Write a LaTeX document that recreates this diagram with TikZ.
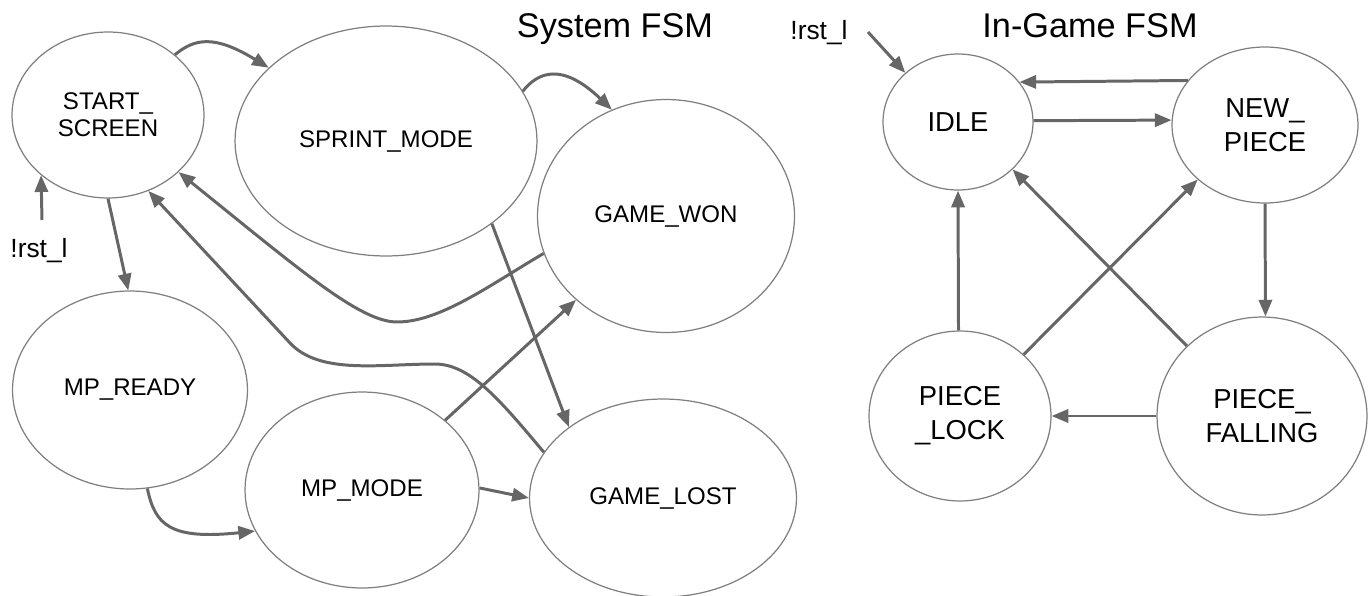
\documentclass[tikz,border=0pt]{standalone}
\usepackage{fontspec}
\setmainfont{Liberation Sans}
\usetikzlibrary{shapes.geometric,arrows.meta}
\definecolor{ringgray}{HTML}{7F7F7F}
\definecolor{edgegray}{HTML}{666666}
\begin{document}
\begin{tikzpicture}[x=0.02cm,y=-0.02cm,
  st/.style={shape=ellipse,draw=ringgray,line width=0.7pt,inner sep=0pt,align=center,font=\fontsize{13.7}{15.3}\selectfont},
  bigst/.style={st,font=\fontsize{15.6}{19.3}\selectfont},
  tr/.style={draw=edgegray,line width=1.7pt,-{Triangle[length=9.5pt,width=7.5pt]}},
  ttl/.style={anchor=base,font=\fontsize{19.5}{22}\selectfont},
  rst/.style={font=\fontsize{15}{17}\selectfont}]

     \useasboundingbox (0,0) rectangle (1369,595);

     \node[ttl] (T1) at (615,37) {System FSM};
     \node[ttl] (T2) at (1090,37) {In-Game FSM};

     \node[st, minimum width=3.84cm, minimum height=3.32cm] (SS)  at (108,115) {START\_\\SCREEN};
     \node[st, minimum width=6.04cm, minimum height=4.6cm] (SM)  at (386,141) {SPRINT\_MODE};
     \node[st, minimum width=5.14cm, minimum height=4.66cm] (GW)  at (666,216) {GAME\_WON};
     \node[st, minimum width=4.7cm, minimum height=3.96cm] (MR)  at (130,390) {MP\_READY};
     \node[st, minimum width=4.68cm, minimum height=3.92cm] (MM)  at (362,490) {MP\_MODE};
     \node[st, minimum width=5.34cm, minimum height=3.96cm] (GL)  at (663,498) {GAME\_LOST};

     \node[bigst, minimum width=3.0cm, minimum height=2.72cm] (ID)  at (958,122) {IDLE};
     \node[bigst, minimum width=3.72cm, minimum height=3.12cm] (NP)  at (1265,125) {NEW\_\\PIECE};
     \node[bigst, minimum width=3.64cm, minimum height=3.4cm] (PL)  at (960,416) {PIECE\\\_LOCK};
     \node[bigst, minimum width=4.2cm, minimum height=3.96cm] (PF)  at (1262,416) {PIECE\_\\FALLING};

     \node[rst] (R1) at (39,251) {!rst\_l};
     \coordinate (R1a) at (42,220);
     \node[rst] (R2) at (819,33) {!rst\_l};
     \coordinate (R2a) at (868,32);

     \draw [tr] (R1a) to (SS.222);
     \draw [tr] (SS.42) .. controls (195,38) and (215,35) .. (SM.148);
     \draw [tr] (SM.20) .. controls (538,72) and (562,62) .. (GW.117);
     \draw [tr] (SS.270) to (MR.91);
     \draw [tr] (GW.197) .. controls (490,285) and (440,322) .. (397,322) .. controls (360,322) and (300,270) .. (SS.321);
     \draw [tr] (GL.159) .. controls (500,400) and (470,364) .. (435,364) .. controls (380,364) and (320,375) .. (290,343) -- (SS.298);
     \draw [tr] (SM.322) to (GL.143);
     \draw [tr] (MM.40) to (GW.223);
     \draw [tr] (MR.280) .. controls (155,525) and (170,540) .. (MM.201);
     \draw [tr] (MM.1) to (GL.180);

     \draw [tr] (R2a) to (ID.137);
     \draw [tr] (NP.150) to (ID.33);
     \draw [tr] (ID.1) to (NP.177);
     \draw [tr] (NP.270) to (PF.88);
     \draw [tr] (PF.180) to (PL.0);
     \draw [tr] (PL.91) to (ID.270);
     \draw [tr] (PL.44) to (NP.219);
     \draw [tr] (PF.137) to (ID.319);

     \end{tikzpicture}
\end{document}
